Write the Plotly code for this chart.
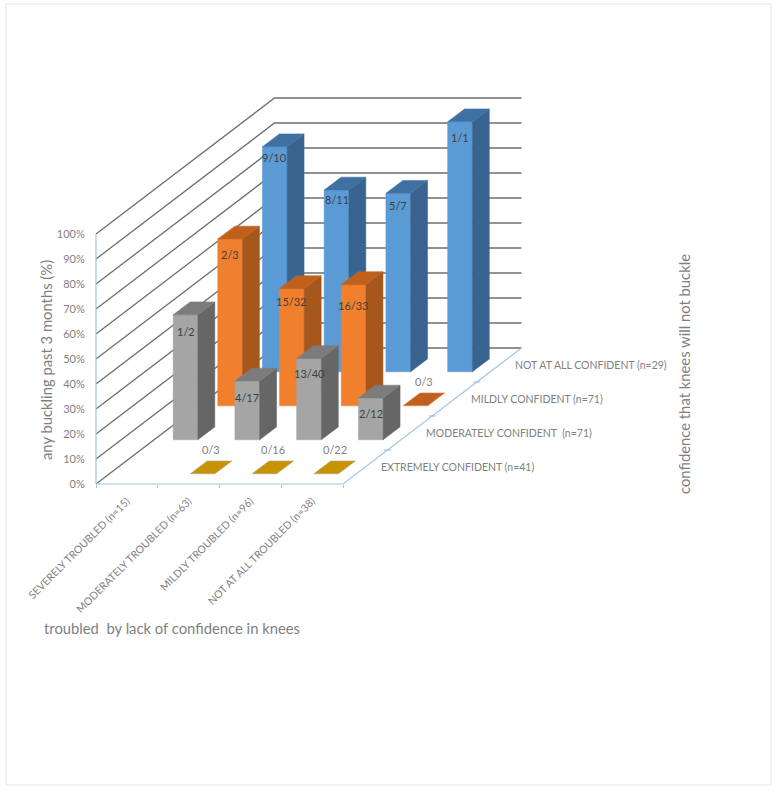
import plotly.graph_objects as go

# ---- data ----
troubled = ["SEVERELY TROUBLED (n=15)", "MODERATELY TROUBLED (n=63)",
            "MILDLY TROUBLED (n=96)", "NOT AT ALL TROUBLED (n=38)"]
confidence = ["EXTREMELY CONFIDENT (n=41)", "MODERATELY CONFIDENT  (n=71)",
              "MILDLY CONFIDENT (n=71)", "NOT AT ALL CONFIDENT (n=29)"]
percent_ticks = [0, 10, 20, 30, 40, 50, 60, 70, 80, 90, 100]

extremely_values = [None, 0.0, 0.0, 0.0]
extremely_labels = [None, "0/3", "0/16", "0/22"]
moderately_values = [50.0, 23.5, 32.5, 16.7]
moderately_labels = ["1/2", "4/17", "13/40", "2/12"]
mildly_values = [66.7, 46.9, 48.5, 0.0]
mildly_labels = ["2/3", "15/32", "16/33", "0/3"]
notatall_values = [90.0, 72.7, 71.4, 100.0]
notatall_labels = ["9/10", "8/11", "5/7", "1/1"]

# ---- style / geometry ----
W, H = 779, 792
X0, Y0 = 96.0, 484.0          # pixel of origin
COL_PX = 61.75                # pixels per category column
PCT_PX = 2.5                  # pixels per percentage point
ROW_DX = 178.5 / 4 / COL_PX   # oblique shift of one depth row, in column units
ROW_DY = 136 / 4 / PCT_PX     # oblique shift of one depth row, in percent units
BAR_X = (0.31, 0.71)
BAR_D = (0.30, 0.68)

series = [
    (notatall_values, notatall_labels, 3, "#5B9BD5", "#3E71A1", "#38648F", [11, 9, 12, 16]),
    (mildly_values, mildly_labels, 2, "#F07F2E", "#C0601F", "#A6581C", [15, 13, 21, 0]),
    (moderately_values, moderately_labels, 1, "#A5A5A5", "#7C7C7C", "#666666", [17, 16, 15, 15]),
    (extremely_values, extremely_labels, 0, "#A5A5A5", "#C79300", "#666666", [0, 0, 0, 0]),
]
GRID = "#6E6E6E"
AXIS = "#9DC3E6"
TEXT = "#7F7F7F"
FONT = "Lato, Carlito, Calibri, sans-serif"


def proj(col, row, pct):
    """Oblique projection of (category, depth row, percent) to the 2-D axes."""
    return col + row * ROW_DX, pct + row * ROW_DY


fig = go.Figure()


def add_poly(points, color, line=None):
    xs, ys = zip(*points)
    fig.add_trace(go.Scatter(x=list(xs) + [xs[0]], y=list(ys) + [ys[0]], mode="lines",
                             fill="toself", fillcolor=color,
                             line=dict(color=line or color, width=0.5),
                             hoverinfo="skip", showlegend=False))


def add_line(points, color, width=1.0):
    xs, ys = zip(*points)
    fig.add_trace(go.Scatter(x=list(xs), y=list(ys), mode="lines",
                             line=dict(color=color, width=width),
                             hoverinfo="skip", showlegend=False))


# walls
for p in percent_ticks:
    add_line([proj(0, 0, p), proj(0, 4, p), proj(4, 4, p)], GRID, 1.3)

# floor edges and axes
add_line([proj(0, 0, 0), proj(0, 0, 100)], AXIS, 1.2)
add_line([proj(0, 0, 0), proj(4, 0, 0), proj(4, 4, 0)], AXIS, 1.2)
edge = [proj(4, r, 0) for r in range(1, 4)]
fig.add_trace(go.Scatter(x=[e[0] for e in edge], y=[e[1] for e in edge], mode="markers",
                         marker=dict(symbol="line-ew", size=5, line=dict(color=AXIS, width=1.2)),
                         hoverinfo="skip", showlegend=False))

annotations = []

# bars, back to front
for values, labels, row, front, top, side, drops in series:
    for col, v in enumerate(values):
        if v is None:
            continue
        x1, x2 = col + BAR_X[0], col + BAR_X[1]
        d1, d2 = row + BAR_D[0], row + BAR_D[1]
        if v > 0:
            add_poly([proj(x1, d1, 0), proj(x2, d1, 0), proj(x2, d1, v), proj(x1, d1, v)], front)
            add_poly([proj(x2, d1, 0), proj(x2, d2, 0), proj(x2, d2, v), proj(x2, d1, v)], side)
        add_poly([proj(x1, d1, v), proj(x2, d1, v), proj(x2, d2, v), proj(x1, d2, v)], top,
                 line=front if v == 0 and top != front else None)
        if v > 0:
            lx, ly = proj((x1 + x2) / 2, d1, v)
            yshift = -drops[col]
        else:
            lx, ly = proj((x1 + x2) / 2, (d1 + d2) / 2, 0)
            yshift = 18
        annotations.append(dict(x=lx, y=ly, xref="x", yref="y", text=labels[col], showarrow=False,
                                yshift=yshift, font=dict(family=FONT, size=11,
                                                         color="#404040" if v > 0 else TEXT)))

# depth-row labels
for row, name in enumerate(confidence):
    lx, ly = proj(4, row + 0.5, 0)
    annotations.append(dict(x=lx, y=ly, xref="x", yref="y", text=name, showarrow=False,
                            xanchor="left", xshift=14, font=dict(family=FONT, size=10.5, color=TEXT)))

# axis titles
title_font = dict(family=FONT, size=14.8, color=TEXT)
annotations += [
    dict(x=46 / W, y=1 - 360 / H, xref="paper", yref="paper", text="any buckling past 3 months (%)",
         textangle=-90, showarrow=False, xanchor="center", yanchor="middle", font=title_font),
    dict(x=684 / W, y=1 - 374 / H, xref="paper", yref="paper", text="confidence that knees will not buckle",
         textangle=-90, showarrow=False, xanchor="center", yanchor="middle", font=title_font),
    dict(x=172 / W, y=1 - 628 / H, xref="paper", yref="paper", text="troubled  by lack of confidence in knees",
         showarrow=False, xanchor="center", yanchor="middle", font=title_font),
]

fig.update_layout(
    width=W, height=H, margin=dict(l=0, r=0, t=0, b=0), autosize=False,
    paper_bgcolor="white", plot_bgcolor="white", showlegend=False,
    annotations=annotations,
    shapes=[dict(type="rect", xref="paper", yref="paper", x0=6 / W, x1=771 / W, y0=1 - 785 / H, y1=1 - 4 / H,
                 line=dict(color="#E4E4E4", width=1), fillcolor="rgba(0,0,0,0)", layer="below")],
    xaxis=dict(range=[-X0 / COL_PX, (W - X0) / COL_PX], anchor="free", position=(H - Y0) / H,
               showgrid=False, zeroline=False, showline=False,
               tickmode="array", tickvals=[0.5, 1.5, 2.5, 3.5], ticktext=troubled, tickangle=-45,
               ticks="outside", ticklen=6, tickcolor="rgba(0,0,0,0)",
               tickfont=dict(family=FONT, size=10.5, color=TEXT),
               minor=dict(tickmode="array", tickvals=[0, 1, 2, 3, 4], ticks="outside", ticklen=3,
                          tickcolor=AXIS, showgrid=False)),
    yaxis=dict(range=[-(H - Y0) / PCT_PX, Y0 / PCT_PX], anchor="free", position=X0 / W,
               showgrid=False, zeroline=False, showline=False,
               tickmode="array", tickvals=percent_ticks, ticktext=[f"{p}%" for p in percent_ticks],
               ticks="outside", ticklen=9, tickcolor="rgba(0,0,0,0)",
               tickfont=dict(family=FONT, size=11, color=TEXT)),
)

fig.write_html("out.html", config={"displayModeBar": False},
               post_script="document.body.style.margin='0';document.body.style.overflow='hidden';")
